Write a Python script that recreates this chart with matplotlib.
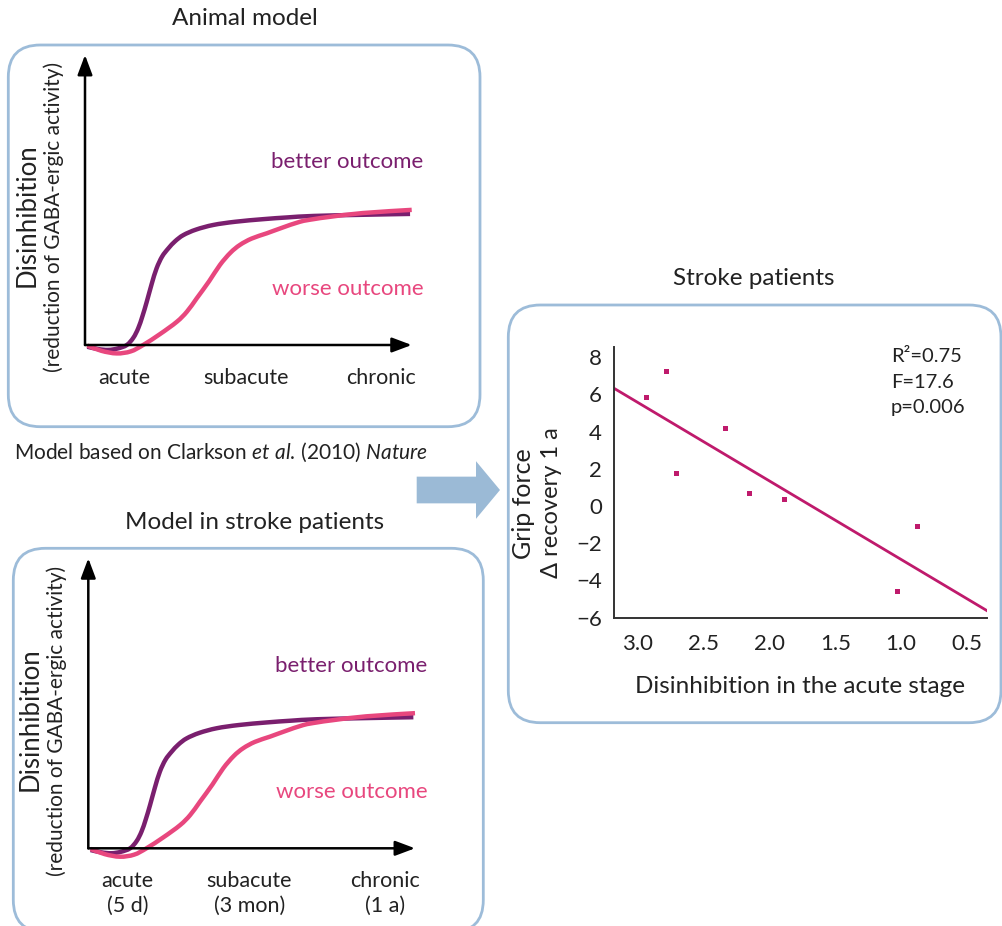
import matplotlib
matplotlib.use("Agg")
import numpy as np
import matplotlib.pyplot as plt
from matplotlib.patches import FancyBboxPatch, FancyArrow, PathPatch
from matplotlib.path import Path

plt.rcParams['font.family'] = ['Lato', 'DejaVu Sans']
plt.rcParams['mathtext.fontset'] = 'custom'
plt.rcParams['mathtext.rm'] = 'Lato'
plt.rcParams['mathtext.it'] = 'Lato:italic'

W, H = 1003, 926
PURPLE = '#7a1f6e'
PINK = '#e8477e'
MAGENTA = '#bf1a6c'
FRAME = '#9dbcd9'
INK = '#222222'

# schematic time course of disinhibition (time and level in axis units)
better_x = [0.007, 0.04, 0.071, 0.10, 0.128, 0.148, 0.163, 0.176, 0.189, 0.204, 0.219,
            0.236, 0.255, 0.276, 0.301, 0.34, 0.393, 0.46, 0.546, 0.62, 0.699, 0.85, 0.995]
better_y = [-0.006, -0.014, -0.017, -0.012, 0.0, 0.025, 0.058, 0.10, 0.149, 0.21, 0.264,
            0.305, 0.333, 0.358, 0.379, 0.398, 0.414, 0.425, 0.434, 0.44, 0.445, 0.449, 0.452]
worse_x = [0.007, 0.05, 0.097, 0.14, 0.178, 0.23, 0.281, 0.312, 0.342, 0.38, 0.413,
           0.445, 0.474, 0.51, 0.556, 0.60, 0.658, 0.70, 0.75, 0.85, 1.0]
worse_y = [-0.002, -0.02, -0.029, -0.022, 0.0, 0.038, 0.080, 0.115, 0.161, 0.22, 0.276,
           0.318, 0.345, 0.367, 0.385, 0.403, 0.425, 0.434, 0.442, 0.455, 0.466]

phases = ['acute', 'subacute', 'chronic']
phase_x = [0.12, 0.493, 0.907]
durations = ['(5 d)', '(3 mon)', '(1 a)']

# stroke patients: disinhibition in the acute stage vs. grip force recovery after 1 year
disinhibition = [2.94, 2.79, 2.71, 2.34, 2.155, 1.89, 1.03, 0.88]
grip_recovery = [5.85, 7.25, 1.75, 4.2, 0.7, 0.4, -4.6, -1.1]
fit_slope, fit_intercept = 4.22, -7.10
fit_x = [3.18, 0.35]
stats = ['R²=0.75', 'F=17.6', 'p=0.006']
x_ticks = [3.0, 2.5, 2.0, 1.5, 1.0, 0.5]
y_ticks = [8, 6, 4, 2, 0, -2, -4, -6]

fig = plt.figure(figsize=(W / 100, H / 100), dpi=100)

# full-size pixel canvas for frames, titles and the connecting arrow
bg = fig.add_axes([0, 0, 1, 1])
bg.set_xlim(0, W)
bg.set_ylim(H, 0)
bg.axis('off')


def px_axes(left, top, right, bottom):
    return fig.add_axes([left / W, 1 - bottom / H, (right - left) / W, (bottom - top) / H])


def frame(left, top, right, bottom):
    bg.add_patch(FancyBboxPatch((left, top), right - left, bottom - top,
                                boxstyle='round,pad=0,rounding_size=32',
                                fc='white', ec=FRAME, lw=2))


def smooth_path(xs, ys):
    # Catmull-Rom through the given points, handed to matplotlib as cubic Bezier segments
    pts = np.column_stack([xs, ys])
    ext = np.vstack([pts[0], pts, pts[-1]])
    verts = [pts[0]]
    codes = [Path.MOVETO]
    for i in range(1, len(ext) - 2):
        p0, p1, p2, p3 = ext[i - 1], ext[i], ext[i + 1], ext[i + 2]
        verts += [p1 + (p2 - p0) / 6, p2 - (p3 - p1) / 6, p2]
        codes += [Path.CURVE4] * 3
    return Path(verts, codes)


def curve(ax, xs, ys, color):
    ax.add_patch(PathPatch(smooth_path(xs, ys), fill=False, ec=color, lw=3.2,
                           capstyle='butt', joinstyle='round', clip_on=False))


def draw_model(ax, with_durations):
    ax.set_xlim(0, 1)
    ax.set_ylim(0, 1)
    ax.axis('off')
    arrow = dict(arrowstyle='-|>,head_length=0.4,head_width=0.15', color='black',
                 lw=1.8, mutation_scale=30, shrinkA=0, shrinkB=0)
    ax.annotate('', xy=(1, 0), xytext=(0, 0), arrowprops=arrow)
    ax.annotate('', xy=(0, 1), xytext=(0, 0), arrowprops=arrow)
    curve(ax, better_x, better_y, PURPLE)
    curve(ax, worse_x, worse_y, PINK)
    ax.text(1.036, 0.63, 'better outcome', color=PURPLE, fontsize=16, ha='right', va='center')
    ax.text(1.038, 0.193, 'worse outcome', color=PINK, fontsize=16, ha='right', va='center')
    for name, x in zip(phases, phase_x):
        ax.text(x, -0.114, name, fontsize=15.5, color=INK, ha='center', va='center')
    if with_durations:
        for d, x in zip(durations, phase_x):
            ax.text(x, -0.199, d, fontsize=15.5, color=INK, ha='center', va='center')
    ax.text(-0.178, 0.447, 'Disinhibition', fontsize=18.5, color=INK, rotation=90,
            ha='center', va='center')
    ax.text(-0.097, 0.44, '(reduction of GABA-ergic activity)', fontsize=15, color=INK,
            rotation=90, ha='center', va='center')


frame(8.3, 45, 480, 426.7)
frame(13.3, 548.3, 483.3, 932)
frame(508.3, 305, 1001, 722.7)

bg.add_patch(FancyArrow(416.7, 490, 83.3, 0, width=26.7, head_width=57.7, head_length=24,
                        length_includes_head=True, color='#9bbad6', lw=0))

bg.text(245, 18.3, 'Animal model', fontsize=17.5, color=INK, ha='center', va='center')
bg.text(255, 522.7, 'Model in stroke patients', fontsize=17.5, color=INK,
        ha='center', va='center')
bg.text(754, 278.3, 'Stroke patients', fontsize=17.5, color=INK, ha='center', va='center')
bg.text(14, 452.3, r'Model based on Clarkson $\mathit{et\ al.}\,$(2010) $\mathit{Nature}$',
        fontsize=15, color=INK, ha='left', va='center')

draw_model(px_axes(85, 55, 411.7, 345), False)
draw_model(px_axes(88.3, 558.3, 415, 848.3), True)

# regression panel
sc = px_axes(614.3, 347, 986.7, 617.5)
sc.plot(fit_x, [fit_slope * x + fit_intercept for x in fit_x], color=MAGENTA, lw=2)
sc.plot(disinhibition, grip_recovery, 's', color=MAGENTA, ms=3.6, mew=0)
sc.set_xlim(3.18, 0.35)
sc.set_ylim(-6, 8.55)
sc.set_xticks(x_ticks)
sc.set_xticklabels([f'{t:.1f}' for t in x_ticks])
sc.set_yticks(y_ticks)
sc.tick_params(length=0, labelsize=16, colors=INK)
sc.tick_params(axis='x', pad=12)
sc.tick_params(axis='y', pad=9)
for side in ('top', 'right'):
    sc.spines[side].set_visible(False)
for side in ('left', 'bottom'):
    sc.spines[side].set_color('#333333')
    sc.spines[side].set_linewidth(1.4)
sc.patch.set_alpha(0)
for i, s in enumerate(stats):
    sc.text(890.7, 356.7 + 25.6 * i, s, transform=bg.transData, fontsize=14.5, color=INK,
            ha='left', va='center')

bg.text(523.3, 504, 'Grip force', fontsize=18, color=INK, rotation=90, ha='center', va='center')
bg.text(551.7, 503, 'Δ recovery 1 a', fontsize=17, color=INK, rotation=90,
        ha='center', va='center')
bg.text(800, 686.7, 'Disinhibition in the acute stage', fontsize=17.5, color=INK,
        ha='center', va='center')

fig.savefig('out.png', dpi=100)
